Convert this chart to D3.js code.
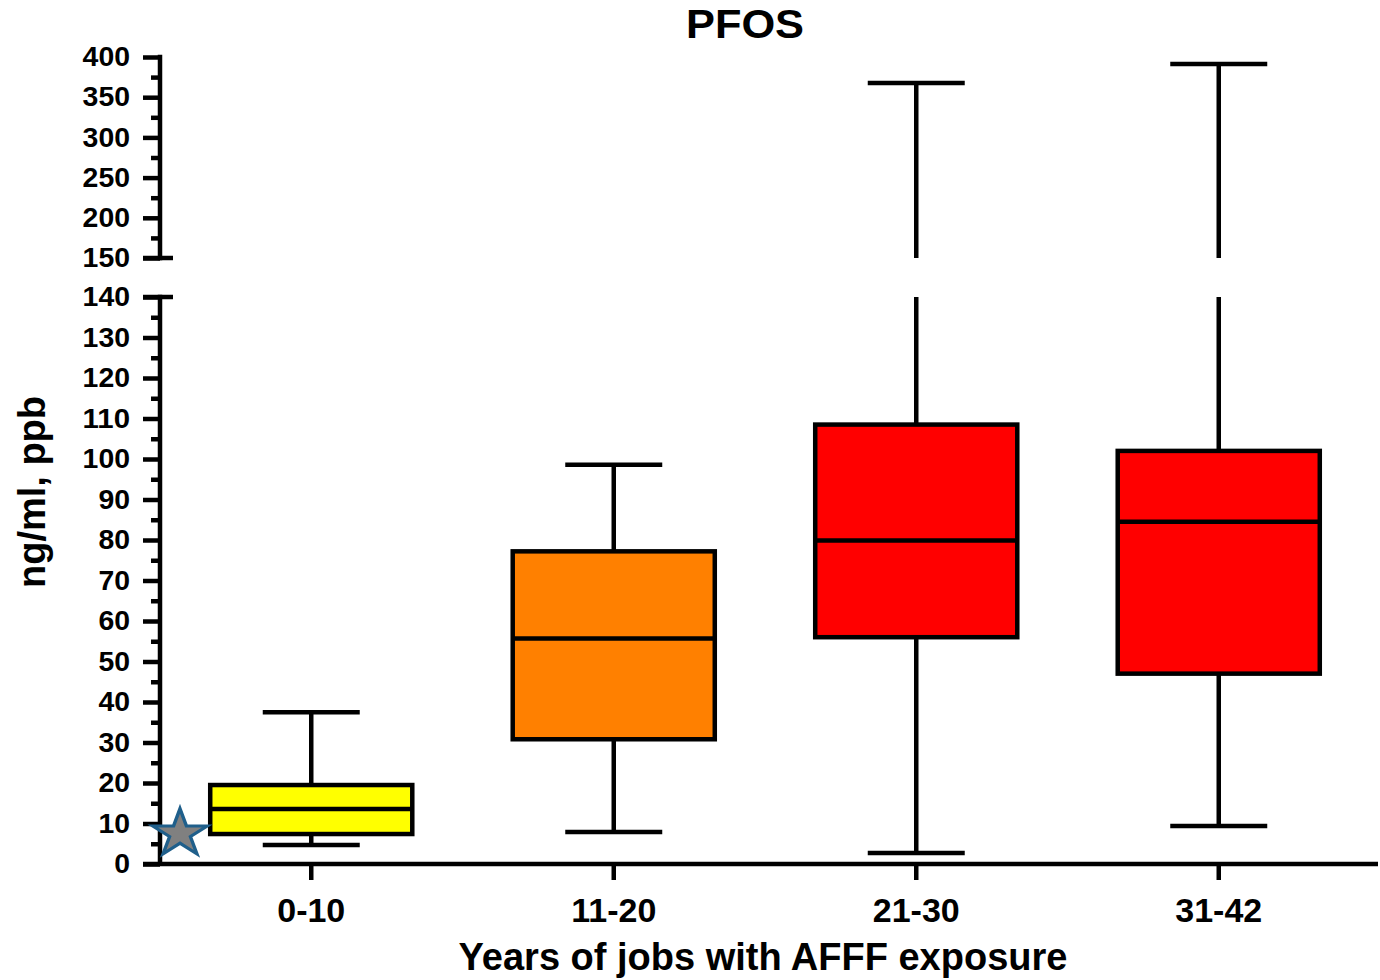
<!DOCTYPE html>
<html><head><meta charset="utf-8">
<script src="https://cdn.jsdelivr.net/npm/d3@7"></script>
<style>
body{margin:0;background:#fff;}
text{font-family:"Liberation Sans",Arial,Helvetica,sans-serif;font-weight:bold;fill:#000;}
</style></head>
<body><svg id="c" width="1380" height="980"></svg>
<script>
// ---- data ----
const categories = ["0-10", "11-20", "21-30", "31-42"];
const whiskerLow  = [4.7, 7.9, 2.7, 9.4];
const quartile1   = [7.4, 30.8, 56.0, 47.0];
const medians     = [13.6, 55.7, 79.9, 84.5];
const quartile3   = [19.5, 77.2, 108.5, 102.0];
const whiskerHigh = [37.5, 98.6, 367.7, 391.3];
const lowerTicks = [0,10,20,30,40,50,60,70,80,90,100,110,120,130,140];
const upperTicks = [150,200,250,300,350,400];
const referenceValue = 7;   // star marker
const title = "PFOS";
const xTitle = "Years of jobs with AFFF exposure";
const yTitle = "ng/ml, ppb";
const fills = ["#ffff00", "#ff8000", "#ff0000", "#ff0000"];

const svg = d3.select("#c");
const axisX = 160;
const LW = 4.5;

const x = d3.scaleBand().domain(categories).range([160, 1370]).paddingInner(0.332).paddingOuter(0.166);
const yL = d3.scaleLinear().domain([0, 140]).range([864, 297]);
const yU = d3.scaleLinear().domain([150, 400]).range([258, 57]);
const breakLow = 140, breakHigh = 150;
const yv = v => v <= breakLow ? yL(v) : yU(v);

// title
svg.append("text").attr("x", 745).attr("y", 38).attr("text-anchor", "middle")
  .attr("font-size", 40).attr("textLength", 118).attr("lengthAdjust", "spacingAndGlyphs").text(title);

// y title
svg.append("text").attr("transform", "translate(45,492) rotate(-90)").attr("text-anchor", "middle")
  .attr("font-size", 38).text(yTitle);

// x title
svg.append("text").attr("x", 763).attr("y", 970).attr("text-anchor", "middle")
  .attr("font-size", 38).text(xTitle);

function styleAxis(g) {
  g.select(".domain").remove();
  g.selectAll("line").attr("stroke", "#000").attr("stroke-width", LW);
  g.selectAll("text").attr("font-size", 27).attr("font-family", "Liberation Sans, Arial, sans-serif")
    .attr("font-weight", "bold").attr("lengthAdjust", "spacingAndGlyphs");
  g.selectAll("text").each(function(d){ const n = String(d).length; d3.select(this).attr("textLength", n * 15.8); });
}

// lower y axis major
const gL = svg.append("g").attr("transform", `translate(${axisX},0)`)
  .call(d3.axisLeft(yL).tickValues(lowerTicks).tickSize(17).tickPadding(13).tickFormat(d3.format("d")));
styleAxis(gL);
// lower minor ticks
svg.append("g").attr("transform", `translate(${axisX},0)`)
  .call(d3.axisLeft(yL).tickValues(d3.range(5, 140, 10)).tickSize(9).tickFormat(""))
  .call(g => { g.select(".domain").remove(); g.selectAll("line").attr("stroke","#000").attr("stroke-width", LW); });
// lower axis line
svg.append("line").attr("x1", axisX).attr("x2", axisX).attr("y1", yL(140) - LW/2).attr("y2", yL(0))
  .attr("stroke", "#000").attr("stroke-width", LW);
// lower top cap
svg.append("line").attr("x1", axisX - 17).attr("x2", axisX + 13).attr("y1", yL(140)).attr("y2", yL(140))
  .attr("stroke", "#000").attr("stroke-width", LW);

// upper y axis
const gU = svg.append("g").attr("transform", `translate(${axisX},0)`)
  .call(d3.axisLeft(yU).tickValues(upperTicks).tickSize(17).tickPadding(13).tickFormat(d3.format("d")));
styleAxis(gU);
svg.append("g").attr("transform", `translate(${axisX},0)`)
  .call(d3.axisLeft(yU).tickValues([175,225,275,325,375]).tickSize(9).tickFormat(""))
  .call(g => { g.select(".domain").remove(); g.selectAll("line").attr("stroke","#000").attr("stroke-width", LW); });
svg.append("line").attr("x1", axisX).attr("x2", axisX).attr("y1", yU(400) - LW/2).attr("y2", yU(150) + LW/2)
  .attr("stroke", "#000").attr("stroke-width", LW);
svg.append("line").attr("x1", axisX - 17).attr("x2", axisX + 13).attr("y1", yU(150)).attr("y2", yU(150))
  .attr("stroke", "#000").attr("stroke-width", LW);

// x axis
const gX = svg.append("g").attr("transform", `translate(0,${yL(0)})`)
  .call(d3.axisBottom(x).tickSize(16).tickPadding(18));
gX.select(".domain").remove();
gX.selectAll("line").attr("stroke", "#000").attr("stroke-width", LW);
gX.selectAll("text").attr("font-size", 34).attr("font-family", "Liberation Sans, Arial, sans-serif").attr("font-weight", "bold");
svg.append("line").attr("x1", axisX - 17).attr("x2", 1378).attr("y1", yL(0)).attr("y2", yL(0))
  .attr("stroke", "#000").attr("stroke-width", LW);

// boxes
const data = categories.map((c, i) => ({c, lo: whiskerLow[i], q1: quartile1[i], med: medians[i], q3: quartile3[i], hi: whiskerHigh[i], fill: fills[i]}));
const g = svg.append("g");
data.forEach(d => {
  const x0 = x(d.c), bw = x.bandwidth(), cx = x0 + bw / 2, capW = bw * 0.48;
  const line = (x1, y1, x2, y2) => g.append("line").attr("x1", x1).attr("y1", y1).attr("x2", x2).attr("y2", y2)
    .attr("stroke", "#000").attr("stroke-width", LW);
  // lower whisker
  line(cx, yv(d.q1), cx, yv(d.lo));
  line(cx - capW / 2, yv(d.lo), cx + capW / 2, yv(d.lo));
  // upper whisker (with axis break)
  if (d.hi > breakLow) {
    line(cx, yv(d.q3), cx, yL(breakLow));
    line(cx, yU(breakHigh), cx, yU(d.hi));
  } else {
    line(cx, yv(d.q3), cx, yv(d.hi));
  }
  line(cx - capW / 2, yv(d.hi), cx + capW / 2, yv(d.hi));
  // box
  g.append("rect").attr("x", x0).attr("y", yv(d.q3)).attr("width", bw).attr("height", yv(d.q1) - yv(d.q3))
    .attr("fill", d.fill).attr("stroke", "#000").attr("stroke-width", LW);
  line(x0, yv(d.med), x0 + bw, yv(d.med));
});

// reference star
const star = d3.symbol().type(d3.symbolStar).size(700);
svg.append("path").attr("d", star())
  .attr("transform", `translate(${axisX + 20},${yL(referenceValue) - 2}) scale(1.15,1)`)
  .attr("fill", "#808080").attr("stroke", "#1f5f8b").attr("stroke-width", 3);
</script></body></html>
